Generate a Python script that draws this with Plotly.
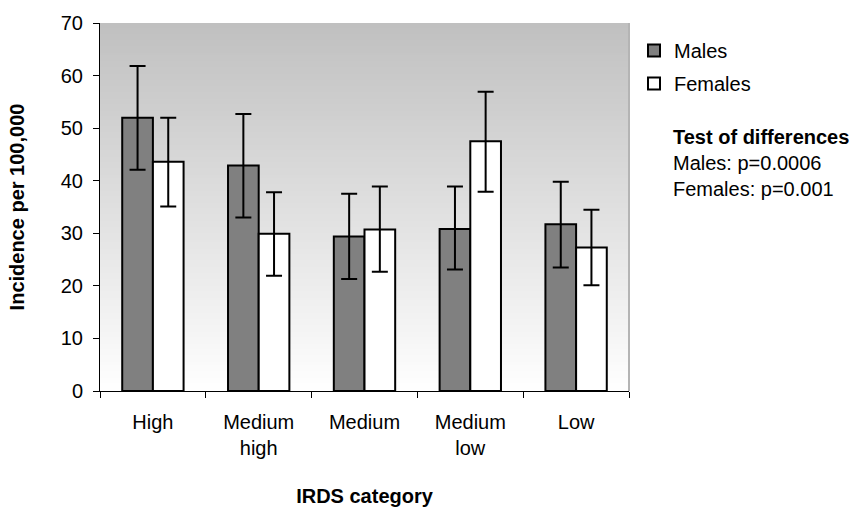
import plotly.graph_objects as go

categories = ["High", "Medium<br>high", "Medium", "Medium<br>low", "Low"]
males_mean = [52.0, 42.9, 29.4, 30.8, 31.7]
males_upper = [61.8, 52.7, 37.5, 38.9, 39.8]
males_lower = [42.1, 33.0, 21.3, 23.1, 23.5]
females_mean = [43.6, 29.9, 30.7, 47.5, 27.3]
females_upper = [52.0, 37.8, 38.9, 56.9, 34.5]
females_lower = [35.1, 21.9, 22.7, 37.9, 20.1]
y_ticks = [0, 10, 20, 30, 40, 50, 60, 70]

FONT = "Liberation Sans, Arial, sans-serif"
W, H = 861, 509
ML, MR, MT, MB = 100, 232, 23, 118

def err(mean, up, lo):
    return dict(type="data", symmetric=False,
                array=[u - m for u, m in zip(up, mean)],
                arrayminus=[m - l for m, l in zip(mean, lo)],
                color="black", thickness=2, width=8)

fig = go.Figure()
fig.add_trace(go.Bar(name="Males", x=categories, y=males_mean,
                     marker=dict(color="#808080", line=dict(color="black", width=2)),
                     error_y=err(males_mean, males_upper, males_lower),
                     legendgroup="m"))
fig.add_trace(go.Bar(name="Females", x=categories, y=females_mean,
                     marker=dict(color="white", line=dict(color="black", width=2)),
                     error_y=err(females_mean, females_upper, females_lower),
                     legendgroup="f"))

# gradient background of plot area
n = 120
shapes = []
for i in range(n):
    t = (i + 0.5) / n  # 0 bottom .. 1 top
    v = int(round(255 - (255 - 192) * t))
    shapes.append(dict(type="rect", xref="paper", yref="paper",
                       x0=0, x1=1, y0=max(0, (i - 0.5) / n), y1=min(1, (i + 1.5) / n),
                       fillcolor=f"rgb({v},{v},{v})", line=dict(width=0),
                       layer="below"))
shapes.append(dict(type="line", xref="paper", yref="paper", x0=1, x1=1, y0=0, y1=1,
                   line=dict(color="#b4b4b4", width=2), layer="below"))

pw = W - ML - MR
ph = H - MT - MB

fig.update_layout(
    width=W, height=H,
    margin=dict(l=ML, r=MR, t=MT, b=MB, pad=0, autoexpand=False),
    paper_bgcolor="white", plot_bgcolor="white",
    font=dict(family=FONT, size=20, color="black"),
    barmode="group", bargap=0.42, bargroupgap=0,
    shapes=shapes,
    showlegend=True,
    legend=dict(x=(634 - ML) / pw, y=(H - MB - 31) / ph, xanchor="left", yanchor="top",
                bgcolor="rgba(0,0,0,0)", borderwidth=0, itemwidth=30,
                tracegroupgap=4, font=dict(size=20, family=FONT)),
    annotations=[dict(xref="paper", yref="paper",
                      x=(671 - ML) / pw, y=(H - MB - 163) / ph,
                      xanchor="left", yanchor="middle", align="left", showarrow=False,
                      text="<b>Test of differences</b><br>Males: p=0.0006<br>Females: p=0.001",
                      font=dict(size=20, family=FONT))],
    xaxis=dict(type="category", showline=True, linecolor="black", linewidth=1,
               ticks="outside", ticklen=6, tickcolor="black", tickson="boundaries",
               ticklabelstandoff=13, automargin=False,
               showgrid=False, zeroline=False,
               title=dict(text="<b>IRDS category</b>", standoff=30,
                          font=dict(size=20, family=FONT))),
    yaxis=dict(range=[0, 70], tickvals=y_ticks, showline=True, linecolor="black",
               linewidth=1, ticks="outside", ticklen=6, tickcolor="black",
               ticklabelstandoff=6, automargin=False,
               showgrid=False, zeroline=False,
               title=dict(text="<b>Incidence per 100,000</b>", standoff=30,
                          font=dict(size=20, family=FONT))),
)

fig.write_html("out.html")
